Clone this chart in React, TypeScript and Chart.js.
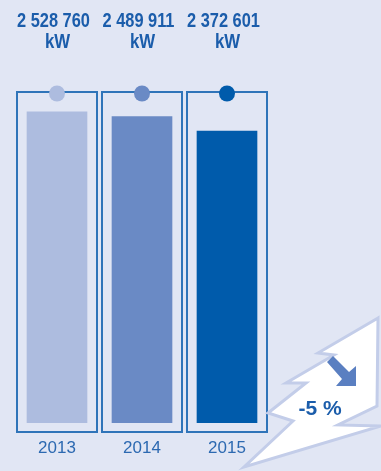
import React, { useEffect, useRef } from 'react';
import { Chart, registerables } from 'chart.js';

Chart.register(...registerables);

const categories = ['2013', '2014', '2015'];
const values = [2528760, 2489911, 2372601];
const valueLabels = ['2 528 760', '2 489 911', '2 372 601'];
const unitLabel = 'kW';
const barColors = ['#adbcdf', '#6a8ac5', '#005bab'];
const changeLabel = '-5 %';
const yMax = 2690000;

const BG = '#e1e6f4';
const BOX = '#2f74b9';
const TEXT = '#1b5dab';
const FONT = '"Liberation Sans", Arial, sans-serif';

function scaledText(ctx: CanvasRenderingContext2D, text: string, x: number, y: number, sx: number) {
  ctx.save();
  ctx.translate(x, y);
  ctx.scale(sx, 1);
  ctx.textAlign = 'center';
  ctx.textBaseline = 'alphabetic';
  ctx.fillText(text, 0, 0);
  ctx.restore();
}

const decorPlugin = {
  id: 'decor',
  beforeDraw(chart: any) {
    const { ctx, width, height } = chart;
    ctx.save();
    ctx.fillStyle = BG;
    ctx.fillRect(0, 0, width, height);
    ctx.restore();
  },
  beforeDatasetsDraw(chart: any) {
    const { ctx, chartArea } = chart;
    const meta = chart.getDatasetMeta(0);
    ctx.save();
    ctx.strokeStyle = BOX;
    ctx.lineWidth = 2;
    meta.data.forEach((bar: any) => {
      const x = Math.round(bar.x);
      ctx.strokeRect(x - 40, chartArea.top, 80, chartArea.bottom + 9 - chartArea.top);
    });
    ctx.restore();
  },
  afterDatasetsDraw(chart: any) {
    const { ctx, chartArea } = chart;
    const meta = chart.getDatasetMeta(0);
    ctx.save();
    meta.data.forEach((bar: any, i: number) => {
      const x = bar.x;
      ctx.beginPath();
      ctx.arc(x, chartArea.top + 1.5, 8, 0, Math.PI * 2);
      ctx.fillStyle = barColors[i];
      ctx.fill();
      ctx.fillStyle = TEXT;
      ctx.font = `bold 21px ${FONT}`;
      scaledText(ctx, valueLabels[i], x - 3.5, chartArea.top - 65, 0.78);
      scaledText(ctx, unitLabel, x + 0.5, chartArea.top - 44, 0.8);
    });
    ctx.restore();

    // lightning bolt
    const pts: [number, number][] = [
      [378, 318], [318, 353], [334, 355], [286, 383], [306, 383], [268, 413], [293, 421], [244, 467],
      [381, 426], [338, 425], [377, 406],
    ];
    ctx.save();
    ctx.beginPath();
    pts.forEach(([px, py], k) => (k === 0 ? ctx.moveTo(px, py) : ctx.lineTo(px, py)));
    ctx.closePath();
    ctx.fillStyle = '#ffffff';
    ctx.fill();
    ctx.strokeStyle = '#c3cde9';
    ctx.lineWidth = 3;
    ctx.lineJoin = 'miter';
    ctx.stroke();

    // arrow icon
    ctx.fillStyle = '#5a7fc1';
    ctx.beginPath();
    ctx.moveTo(327, 362);
    ctx.lineTo(333, 356);
    ctx.lineTo(349, 372);
    ctx.lineTo(356, 366);
    ctx.lineTo(356, 386);
    ctx.lineTo(336, 386);
    ctx.lineTo(342, 379);
    ctx.closePath();
    ctx.fill();

    // change label
    ctx.fillStyle = TEXT;
    ctx.font = `bold 21px ${FONT}`;
    scaledText(ctx, changeLabel, 320, 415, 1);
    ctx.restore();
  },
};

export default function App() {
  const ref = useRef<HTMLCanvasElement | null>(null);
  useEffect(() => {
    document.body.style.margin = '0';
    document.body.style.overflow = 'hidden';
    const chart = new Chart(ref.current as HTMLCanvasElement, {
      type: 'bar',
      data: {
        labels: categories,
        datasets: [
          {
            data: values,
            backgroundColor: barColors,
            borderWidth: 0,
            barThickness: 60,
          },
        ],
      },
      options: {
        animation: false,
        responsive: false,
        devicePixelRatio: 1,
        layout: { padding: { top: 92, bottom: 0, left: 14.5, right: 111.5 } },
        plugins: { legend: { display: false }, tooltip: { enabled: false } },
        scales: {
          x: {
            grid: { display: false, drawTicks: false },
            border: { display: false },
            afterFit: (scale: any) => {
              scale.height = 48;
            },
            ticks: {
              padding: 15,
              color: '#2c69b1',
              font: { family: FONT, size: 17 },
            },
          },
          y: { display: false, min: 0, max: yMax },
        },
      },
      plugins: [decorPlugin],
    });
    return () => chart.destroy();
  }, []);
  return (
    <div style={{ width: 381, height: 471, background: BG }}>
      <canvas ref={ref} width={381} height={471} style={{ display: 'block' }} />
    </div>
  );
}
